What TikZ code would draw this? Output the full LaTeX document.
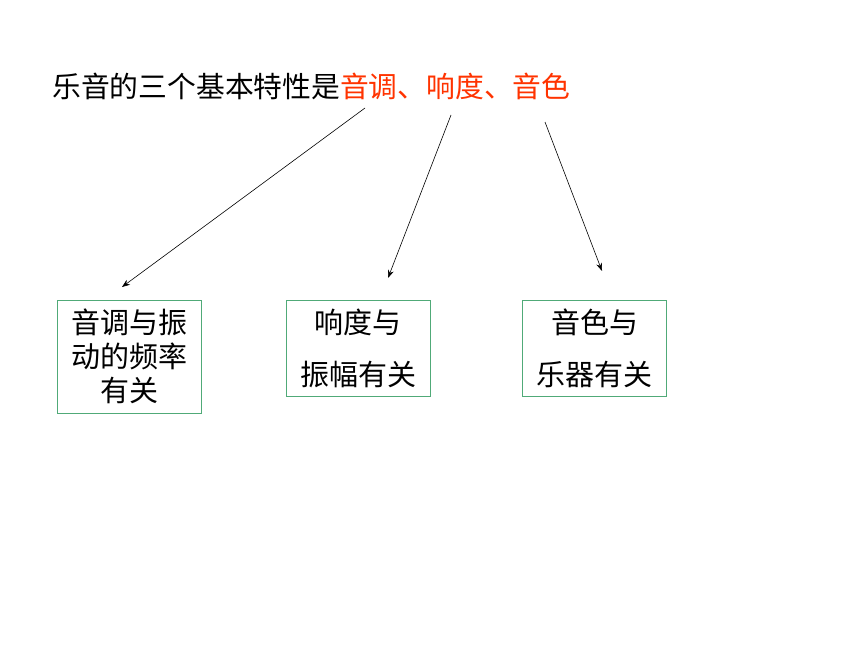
\documentclass[tikz,border=0pt]{standalone}
\usepackage{fontspec}
\setmainfont{Noto Sans CJK SC}
\usepackage{xcolor}
\usetikzlibrary{arrows.meta,positioning}
\definecolor{titlered}{RGB}{255,51,0}
\definecolor{boxgreen}{RGB}{80,170,120}

\begin{document}
\begin{tikzpicture}[x=1pt, y=-1pt,
    factbox/.style={draw=boxgreen, thick, minimum width=144pt, align=center,
        inner sep=0pt, font=\fontsize{29}{34}\selectfont},
    arr/.style={-{Stealth[length=8pt, width=6pt]}, black, line width=0.6pt}]

    \useasboundingbox (0,0) rectangle (860,645);

    % Title
    \node[anchor=west, inner sep=0pt, font=\fontsize{28.8}{34}\selectfont] (title) at (52,86)
        {乐音的三个基本特性是\textcolor{titlered}{音调、响度、音色}};

    % Boxes
    \node[factbox, minimum height=113pt] (pitch) at (129,356.5) {音调与振\\动的频率\\有关};
    \node[factbox, minimum height=96pt] (loud) at (358,348) {响度与\\[18pt]振幅有关};
    \node[factbox, minimum height=96pt] (timbre) at (594.5,348) {音色与\\[18pt]乐器有关};

    % Arrow ends
    \coordinate (p0) at (365,108);
    \coordinate (p1) at (122,287);
    \coordinate (l0) at (451,115);
    \coordinate (l1) at (388,278);
    \coordinate (t0) at (545,122);
    \coordinate (t1) at (602,271);

    \draw[arr] (p0) -- (p1);
    \draw[arr] (l0) -- (l1);
    \draw[arr] (t0) -- (t1);
\end{tikzpicture}
\end{document}
